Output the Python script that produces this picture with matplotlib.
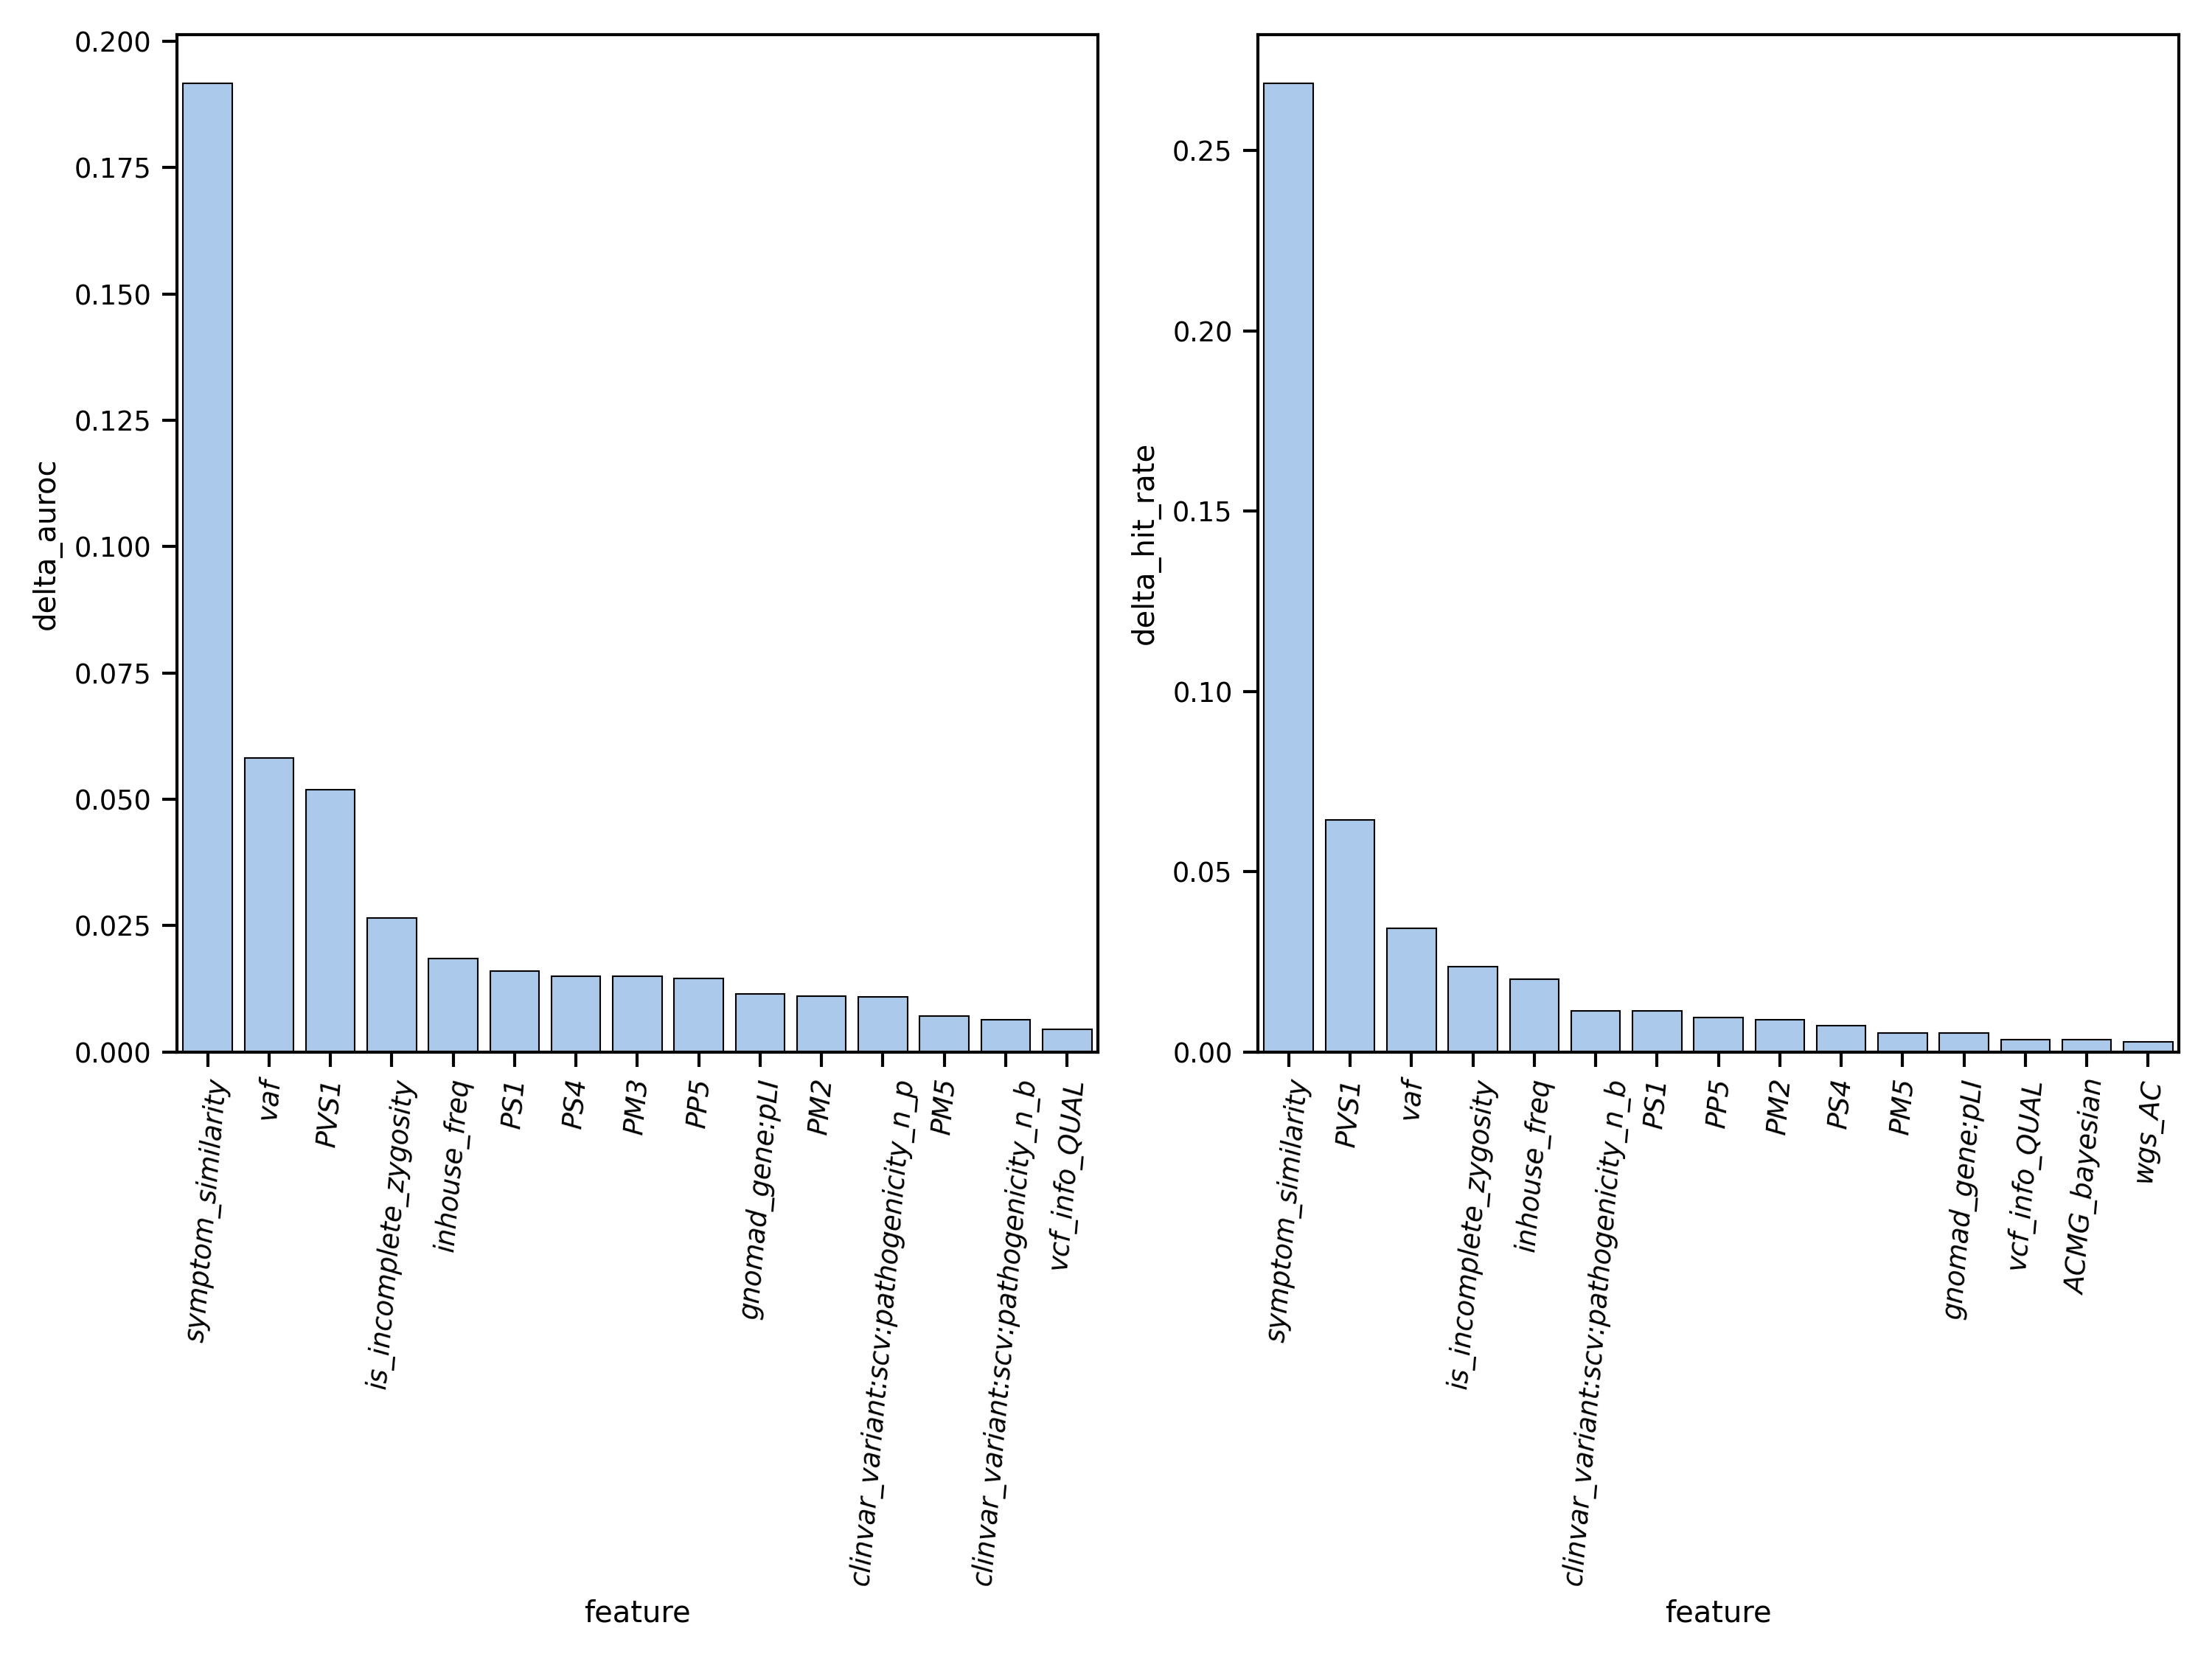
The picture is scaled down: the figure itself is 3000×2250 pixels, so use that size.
import numpy as np
import matplotlib
matplotlib.use("Agg")
import matplotlib.pyplot as plt
import seaborn as sns

# feature importance (drop in metric when feature is removed)
auroc_features = ["symptom_similarity", "vaf", "PVS1", "is_incomplete_zygosity",
                  "inhouse_freq", "PS1", "PS4", "PM3", "PP5", "gnomad_gene:pLI",
                  "PM2", "clinvar_variant:scv:pathogenicity_n_p", "PM5",
                  "clinvar_variant:scv:pathogenicity_n_b", "vcf_info_QUAL"]
auroc_values = [0.1917, 0.0582, 0.0519, 0.0265, 0.0185, 0.0160, 0.0150, 0.0149,
                0.0145, 0.0115, 0.0110, 0.0108, 0.0071, 0.0063, 0.0044]

hit_features = ["symptom_similarity", "PVS1", "vaf", "is_incomplete_zygosity",
                "inhouse_freq", "clinvar_variant:scv:pathogenicity_n_b", "PS1",
                "PP5", "PM2", "PS4", "PM5", "gnomad_gene:pLI", "vcf_info_QUAL",
                "ACMG_bayesian", "wgs_AC"]
hit_values = [0.2687, 0.0644, 0.0342, 0.0237, 0.0201, 0.0114, 0.0114, 0.0096,
              0.0090, 0.0072, 0.0052, 0.0052, 0.0034, 0.0034, 0.0028]

sns.set_theme(style="ticks", context="paper")
plt.rcParams['font.family'] = ['DejaVu Sans']
plt.rcParams.update({
    'text.color': 'black', 'axes.labelcolor': 'black',
    'axes.edgecolor': 'black', 'xtick.color': 'black', 'ytick.color': 'black',
})

bar_color = "#abc9ea"

fig, axes = plt.subplots(1, 2, figsize=(10, 7.5), dpi=300)
plt.subplots_adjust(left=0.080, right=0.985, bottom=0.366, top=0.979, wspace=0.174)

panels = [(auroc_features, auroc_values, "delta_auroc"),
          (hit_features, hit_values, "delta_hit_rate")]

for ax, (feats, vals, ylab) in zip(axes, panels):
    x = np.arange(len(feats))
    ax.bar(x, vals, width=0.8, color=bar_color, edgecolor="black", linewidth=0.5)
    ax.set_xlim(-0.5, len(feats) - 0.5)
    ax.set_ylim(0, max(vals) * 1.05)
    ax.set_xticks(x)
    ax.set_xticklabels(feats, rotation=85, fontstyle="italic", fontsize=8.8)
    ax.set_xlabel("feature", fontsize=9.6)
    ax.set_ylabel(ylab, fontsize=9.6)

axes[0].set_yticks(np.arange(0, 0.201, 0.025))
axes[0].yaxis.set_major_formatter(matplotlib.ticker.FormatStrFormatter('%.3f'))
axes[1].set_yticks(np.arange(0, 0.26, 0.05))
axes[1].yaxis.set_major_formatter(matplotlib.ticker.FormatStrFormatter('%.2f'))

plt.savefig("out.png", dpi=300)
